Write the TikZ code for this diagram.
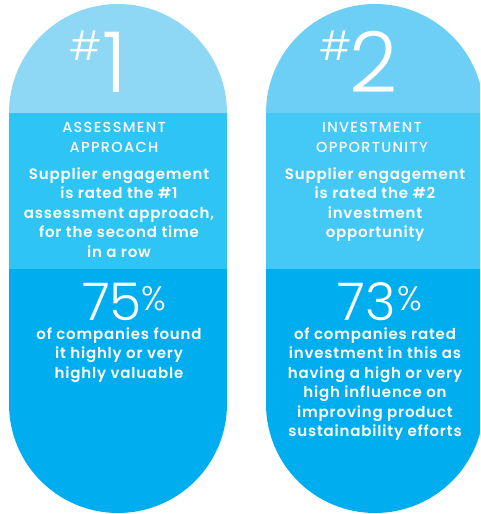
\documentclass[tikz,border=0pt]{standalone}
\usepackage{fontspec}
\setmainfont{Poppins}
\newfontfamily\lightfont{Poppins Light}
\newfontfamily\medfont[LetterSpace=5.5]{Poppins SemiBold}
\newfontfamily\titlefont[LetterSpace=9]{Poppins Medium}
\definecolor{topL}{HTML}{8ED8F6}
\definecolor{midL}{HTML}{2EC4F3}
\definecolor{topR}{HTML}{6DCFF6}
\definecolor{midR}{HTML}{44C8F5}
\definecolor{bot}{HTML}{00AEEF}
\tikzset{
  txt/.style={inner sep=0pt, text=white, anchor=base},
  title/.style={txt, font=\titlefont\fontsize{14.5}{19.5}\selectfont},
  body/.style={txt, font=\medfont\fontsize{15}{19.5}\selectfont},
  bignum/.style={txt, text depth=0pt, font=\lightfont\fontsize{84}{84}\selectfont},
  hash/.style={txt, text depth=0pt, font=\lightfont\fontsize{40}{40}\selectfont},
  pct/.style={txt, text depth=0pt, font=\lightfont\fontsize{52}{52}\selectfont},
  pctsign/.style={txt, text depth=0pt, font=\lightfont\fontsize{34}{34}\selectfont},
}
\newcommand{\pillshape}[5]{%
  \fill[#2] (#1pt,-113pt) arc[start angle=180,end angle=0,radius=109pt] -- cycle;
  \fill[#3] (#1pt,-113pt) rectangle ++(218pt,-156pt);
  \fill[#4] (#1pt,-269pt) -- ++(0,-135pt) arc[start angle=180,end angle=360,radius=109pt] -- ++(0,135pt) -- cycle;
}
\begin{document}
\begin{tikzpicture}[x=1pt,y=1pt]
\useasboundingbox (0,0) rectangle (480,-514);
\clip (0,0) rectangle (480,-514);
\pillshape{9}{topL}{midL}{bot}{}
\pillshape{266}{topR}{midR}{bot}{}
% left pill
\node[hash] (h1) at (86,-60) {\#};
\node[bignum] (n1) at (115,-92) {1};
\node[title] (t1) at (114,-132.7) {\begin{tabular}[t]{@{}c@{}}ASSESSMENT\\APPROACH\end{tabular}};
\node[body] (b1) at (119,-179) {\begin{tabular}[t]{@{}c@{}}Supplier engagement\\is rated the \#1\\assessment approach,\\for the second time\\in a row\end{tabular}};
\node[pct] (p1) at (112,-320) {75};
\node[pctsign] (s1) at (154,-310) {\%};
\node[body] (c1) at (119,-339) {\begin{tabular}[t]{@{}c@{}}of companies found\\it highly or very\\highly valuable\end{tabular}};
% right pill
\node[hash] (h2) at (336,-60) {\#};
\node[bignum] (n2) at (374,-92) {2};
\node[title] (t2) at (372,-132.7) {\begin{tabular}[t]{@{}c@{}}INVESTMENT\\OPPORTUNITY\end{tabular}};
\node[body] (b2) at (375,-179) {\begin{tabular}[t]{@{}c@{}}Supplier engagement\\is rated the \#2\\investment\\opportunity\end{tabular}};
\node[pct] (p2) at (367,-320) {73};
\node[pctsign] (s2) at (410,-310) {\%};
\node[body] (c2) at (375,-339) {\begin{tabular}[t]{@{}c@{}}of companies rated\\investment in this as\\having a high or very\\high influence on\\improving product\\sustainability efforts\end{tabular}};
\end{tikzpicture}
\end{document}
